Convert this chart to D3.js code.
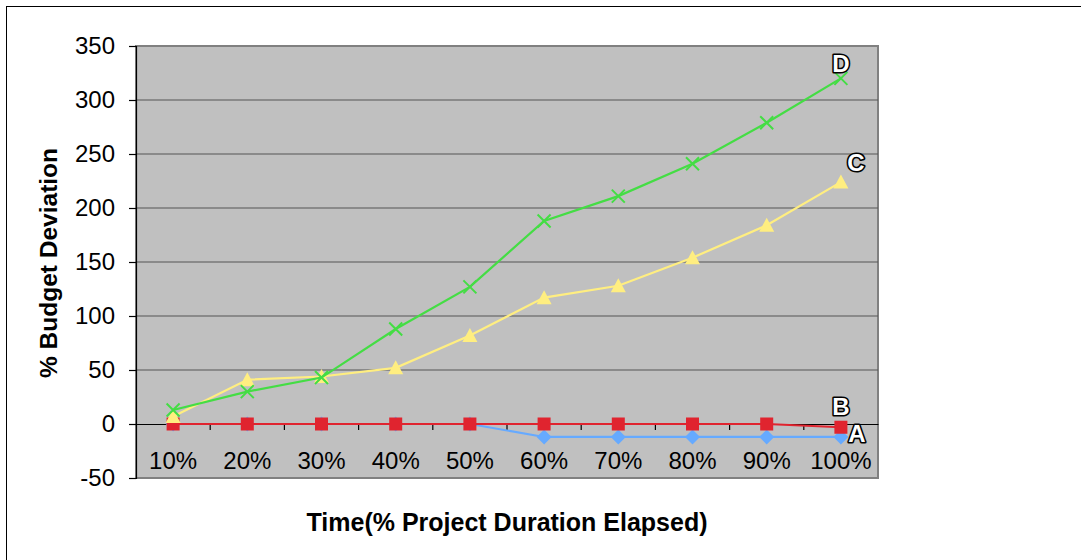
<!DOCTYPE html>
<html><head><meta charset="utf-8">
<script src="https://cdn.jsdelivr.net/npm/d3@7"></script>
<style>body{margin:0;background:#fff}svg{display:block}</style>
</head><body>
<svg id="c" width="1081" height="560"></svg>
<script>
const categories = ["10%","20%","30%","40%","50%","60%","70%","80%","90%","100%"];
const seriesA = [0,0,0,0,0,-12,-12,-12,-12,-12];
const seriesB = [0,0,0,0,0,0,0,0,0,-3];
const seriesC = [7,41,44,52,82,117,128,154,184,224];
const seriesD = [13,30,43,88,127,188,211,241,279,320];
const yTicks = [-50,0,50,100,150,200,250,300,350];
const seriesNames = ["A","B","C","D"];

const svg = d3.select("#c");
const L=136,T=46,R=878,B=478;
const x = d3.scaleBand().domain(categories).range([L,R]);
const y = d3.scaleLinear().domain([-50,350]).range([B,T]);
const font = "'Liberation Sans', Arial, sans-serif";

svg.append("rect").attr("x",6.5).attr("y",6.5).attr("width",1090).attr("height",570)
  .attr("fill","none").attr("stroke","#000").attr("stroke-width",1);

svg.append("rect").attr("x",L).attr("y",T).attr("width",R-L).attr("height",B-T)
  .attr("fill","#c0c0c0").attr("stroke","#808080").attr("stroke-width",2);

svg.append("g").selectAll("line").data(yTicks.filter(d=>d!==-50 && d!==350 && d!==0)).join("line")
  .attr("x1",L).attr("x2",R).attr("y1",d=>y(d)).attr("y2",d=>y(d))
  .attr("stroke","#555").attr("stroke-width",1.2);

const yAxis = d3.axisLeft(y).tickValues(yTicks).tickSize(7).tickPadding(14).tickFormat(d3.format("d"));
const gy = svg.append("g").attr("transform",`translate(${L},0)`).call(yAxis);
gy.select(".domain").attr("stroke","#000").attr("stroke-width",1.2);
gy.selectAll(".tick line").attr("stroke","#000").attr("stroke-width",1.2);
gy.selectAll(".tick text").attr("font-family",font).attr("font-size",24).attr("fill","#000")
  .text(d=>d<0?"-"+Math.abs(d):d);

const xAxis = d3.axisBottom(x).tickSize(0).tickPadding(28);
const gx = svg.append("g").attr("transform",`translate(0,${y(0)})`).call(xAxis);
gx.select(".domain").attr("stroke","#000").attr("stroke-width",1.2);
gx.selectAll(".tick text").attr("font-family",font).attr("font-size",24).attr("fill","#000");
gx.append("g").selectAll("line").data(categories.slice(1)).join("line")
  .attr("x1",d=>x(d)).attr("x2",d=>x(d)).attr("y1",0).attr("y2",6)
  .attr("stroke","#000").attr("stroke-width",1.2);

const cx = d=>x(d)+x.bandwidth()/2;
const line = d3.line().x((d,i)=>cx(categories[i])).y(d=>y(d));

const series = [
  {name:"A", vals:seriesA, color:"#66aaff", marker:"diamond"},
  {name:"B", vals:seriesB, color:"#e0242f", marker:"square"},
  {name:"C", vals:seriesC, color:"#ffee80", marker:"triangle"},
  {name:"D", vals:seriesD, color:"#44dd44", marker:"x"}
];

series.forEach(s=>{
  const g = svg.append("g");
  g.append("path").attr("d",line(s.vals)).attr("fill","none").attr("stroke",s.color).attr("stroke-width",2.2);
  const pts = g.selectAll("g.m").data(s.vals).join("g")
    .attr("transform",(d,i)=>`translate(${cx(categories[i])},${y(d)})`);
  if(s.marker==="diamond"){
    pts.append("path").attr("d","M0,-7.5L7.5,0L0,7.5L-7.5,0Z").attr("fill",s.color);
  } else if(s.marker==="square"){
    pts.append("rect").attr("x",-6.5).attr("y",-6.5).attr("width",13).attr("height",13).attr("fill",s.color);
  } else if(s.marker==="triangle"){
    pts.append("path").attr("d","M0,-7.5L7.5,6.5L-7.5,6.5Z").attr("fill",s.color);
  } else {
    pts.append("path").attr("d","M-6.5,-6.5L6.5,6.5M6.5,-6.5L-6.5,6.5").attr("stroke",s.color).attr("stroke-width",2);
  }
});

const lblPos = {D:[seriesD[9],0,-14], C:[seriesC[9],15,-19], B:[seriesB[9],0,-20], A:[seriesA[9],16,-3]};
seriesNames.forEach(n=>{
  const p = lblPos[n];
  svg.append("text").attr("x",cx(categories[9])+p[1]).attr("y",y(p[0])+p[2]+8)
    .attr("text-anchor","middle").attr("font-family",font).attr("font-weight","bold").attr("font-size",24)
    .attr("fill","#fff").attr("stroke","#000").attr("stroke-width",3.2).attr("stroke-linejoin","round")
    .attr("paint-order","stroke").text(n);
});

svg.append("text").attr("x",507).attr("y",531).attr("text-anchor","middle")
  .attr("font-family",font).attr("font-weight","bold").attr("font-size",25).text("Time(% Project Duration Elapsed)");
svg.append("text").attr("transform","translate(57,263) rotate(-90)").attr("text-anchor","middle")
  .attr("font-family",font).attr("font-weight","bold").attr("font-size",24.5).text("% Budget Deviation");
</script>
</body></html>
